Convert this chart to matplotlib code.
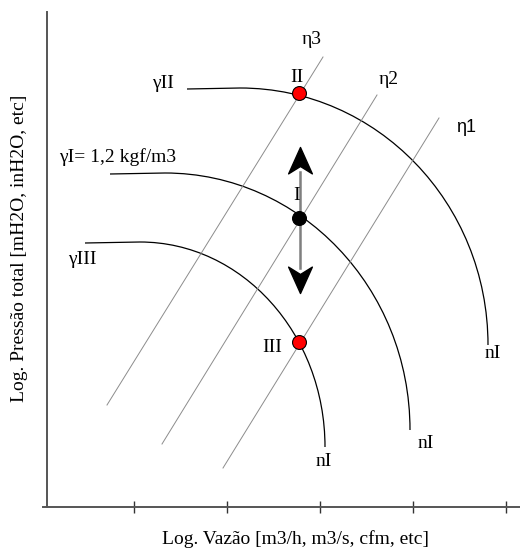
import numpy as np
from matplotlib import pyplot as plt
from matplotlib.path import Path
from matplotlib.patches import PathPatch

plt.rcParams['font.family'] = ['Liberation Serif', 'DejaVu Serif']

# fan curves: flat start, start of the bend, two bezier handles, end (vertical)
curveII = [(140, 418), (193, 419), (330, 419), (441, 304), (441, 162)]
curveI = [(63, 333), (118, 334), (253, 334), (363, 219), (363, 77)]
curveIII = [(38, 264), (93, 265), (195, 265), (278, 173), (278, 60)]

# efficiency lines (eta), two end points each
eta3 = [(60, 102), (276, 450)]
eta2 = [(115, 63), (330, 412)]
eta1 = [(176, 39), (392, 389)]

# operating points II, I, III
pointX = [252, 252, 252]
pointY = [414, 289, 165]
pointColor = ['red', 'black', 'red']

xTicks = [87, 180, 273, 366, 459]

# arrow: shaft bottom/top, tips
arrowX = 253
shaftY = [239, 335]
tipUp = 360
tipDown = 214

fig = plt.figure(figsize=(5.2, 5.54), dpi=100)
ax = fig.add_axes([47 / 520, 47 / 554, 473 / 520, 495 / 554])
ax.set_xlim(0, 473)
ax.set_ylim(0, 495)

for side in ['top', 'right']:
    ax.spines[side].set_visible(False)
for side in ['left', 'bottom']:
    ax.spines[side].set_color('#555555')
    ax.spines[side].set_linewidth(1.4)
ax.spines['bottom'].set_bounds(-4, 473)

ax.set_xticks(xTicks)
ax.set_xticklabels([])
ax.set_yticks([])
ax.tick_params(axis='x', direction='inout', length=8, width=1.0, color='#333333')

codes = [Path.MOVETO, Path.LINETO, Path.CURVE4, Path.CURVE4, Path.CURVE4]
for c in [curveII, curveI, curveIII]:
    ax.add_patch(PathPatch(Path(c, codes), fill=False, edgecolor='black', lw=0.9))

for e in [eta3, eta2, eta1]:
    xs, ys = zip(*e)
    ax.plot(xs, ys, color='#8c8c8c', lw=0.7)

# arrow shaft and heads
ax.plot([arrowX, arrowX], shaftY, color='#7f7f7f', lw=1.8, zorder=3)
headUp = Path([(0, 0), (-0.45, -1), (0, -0.72), (0.45, -1), (0, 0)],
              [Path.MOVETO, Path.LINETO, Path.LINETO, Path.LINETO, Path.CLOSEPOLY])
headDown = Path([(0, 0), (-0.45, 1), (0, 0.72), (0.45, 1), (0, 0)],
                [Path.MOVETO, Path.LINETO, Path.LINETO, Path.LINETO, Path.CLOSEPOLY])
ax.plot([arrowX], [tipUp], marker=headUp, markersize=38, color='black', zorder=4)
ax.plot([arrowX], [tipDown], marker=headDown, markersize=38, color='black', zorder=4)

for x, y, c in zip(pointX, pointY, pointColor):
    ax.plot(x, y, 'o', markersize=10, markerfacecolor=c, markeredgecolor='black',
            markeredgewidth=0.8, zorder=5)

fs = 14
ax.text(265, 467, 'η3', fontsize=fs, ha='center', va='center')
ax.text(342, 428, 'η2', fontsize=fs, ha='center', va='center')
ax.text(419, 380, 'η1', fontsize=13, ha='center', va='center', family='Liberation Sans')
ax.text(116, 424, 'γII', fontsize=fs, ha='center', va='center')
ax.text(12, 350, 'γI= 1,2 kgf/m3', fontsize=fs, ha='left', va='center')
ax.text(35, 247, 'γIII', fontsize=fs, ha='center', va='center')
ax.text(250, 430, 'II', fontsize=fs, ha='center', va='center')
ax.text(250, 312, 'I', fontsize=fs, ha='center', va='center')
ax.text(225, 159, 'III', fontsize=fs, ha='center', va='center')
ax.text(446, 154, 'nI', fontsize=fs, ha='center', va='center')
ax.text(379, 64, 'nI', fontsize=fs, ha='center', va='center')
ax.text(277, 45, 'nI', fontsize=fs, ha='center', va='center')

fig.text(295 / 520, 1 - 539 / 554, 'Log. Vazão [m3/h, m3/s, cfm, etc]',
         fontsize=fs, ha='center', va='center')
fig.text(20 / 520, 1 - 248 / 554, 'Log. Pressão total [mH2O, inH2O, etc]',
         fontsize=fs, ha='center', va='center', rotation=90)

fig.savefig('out.png', dpi=100)
